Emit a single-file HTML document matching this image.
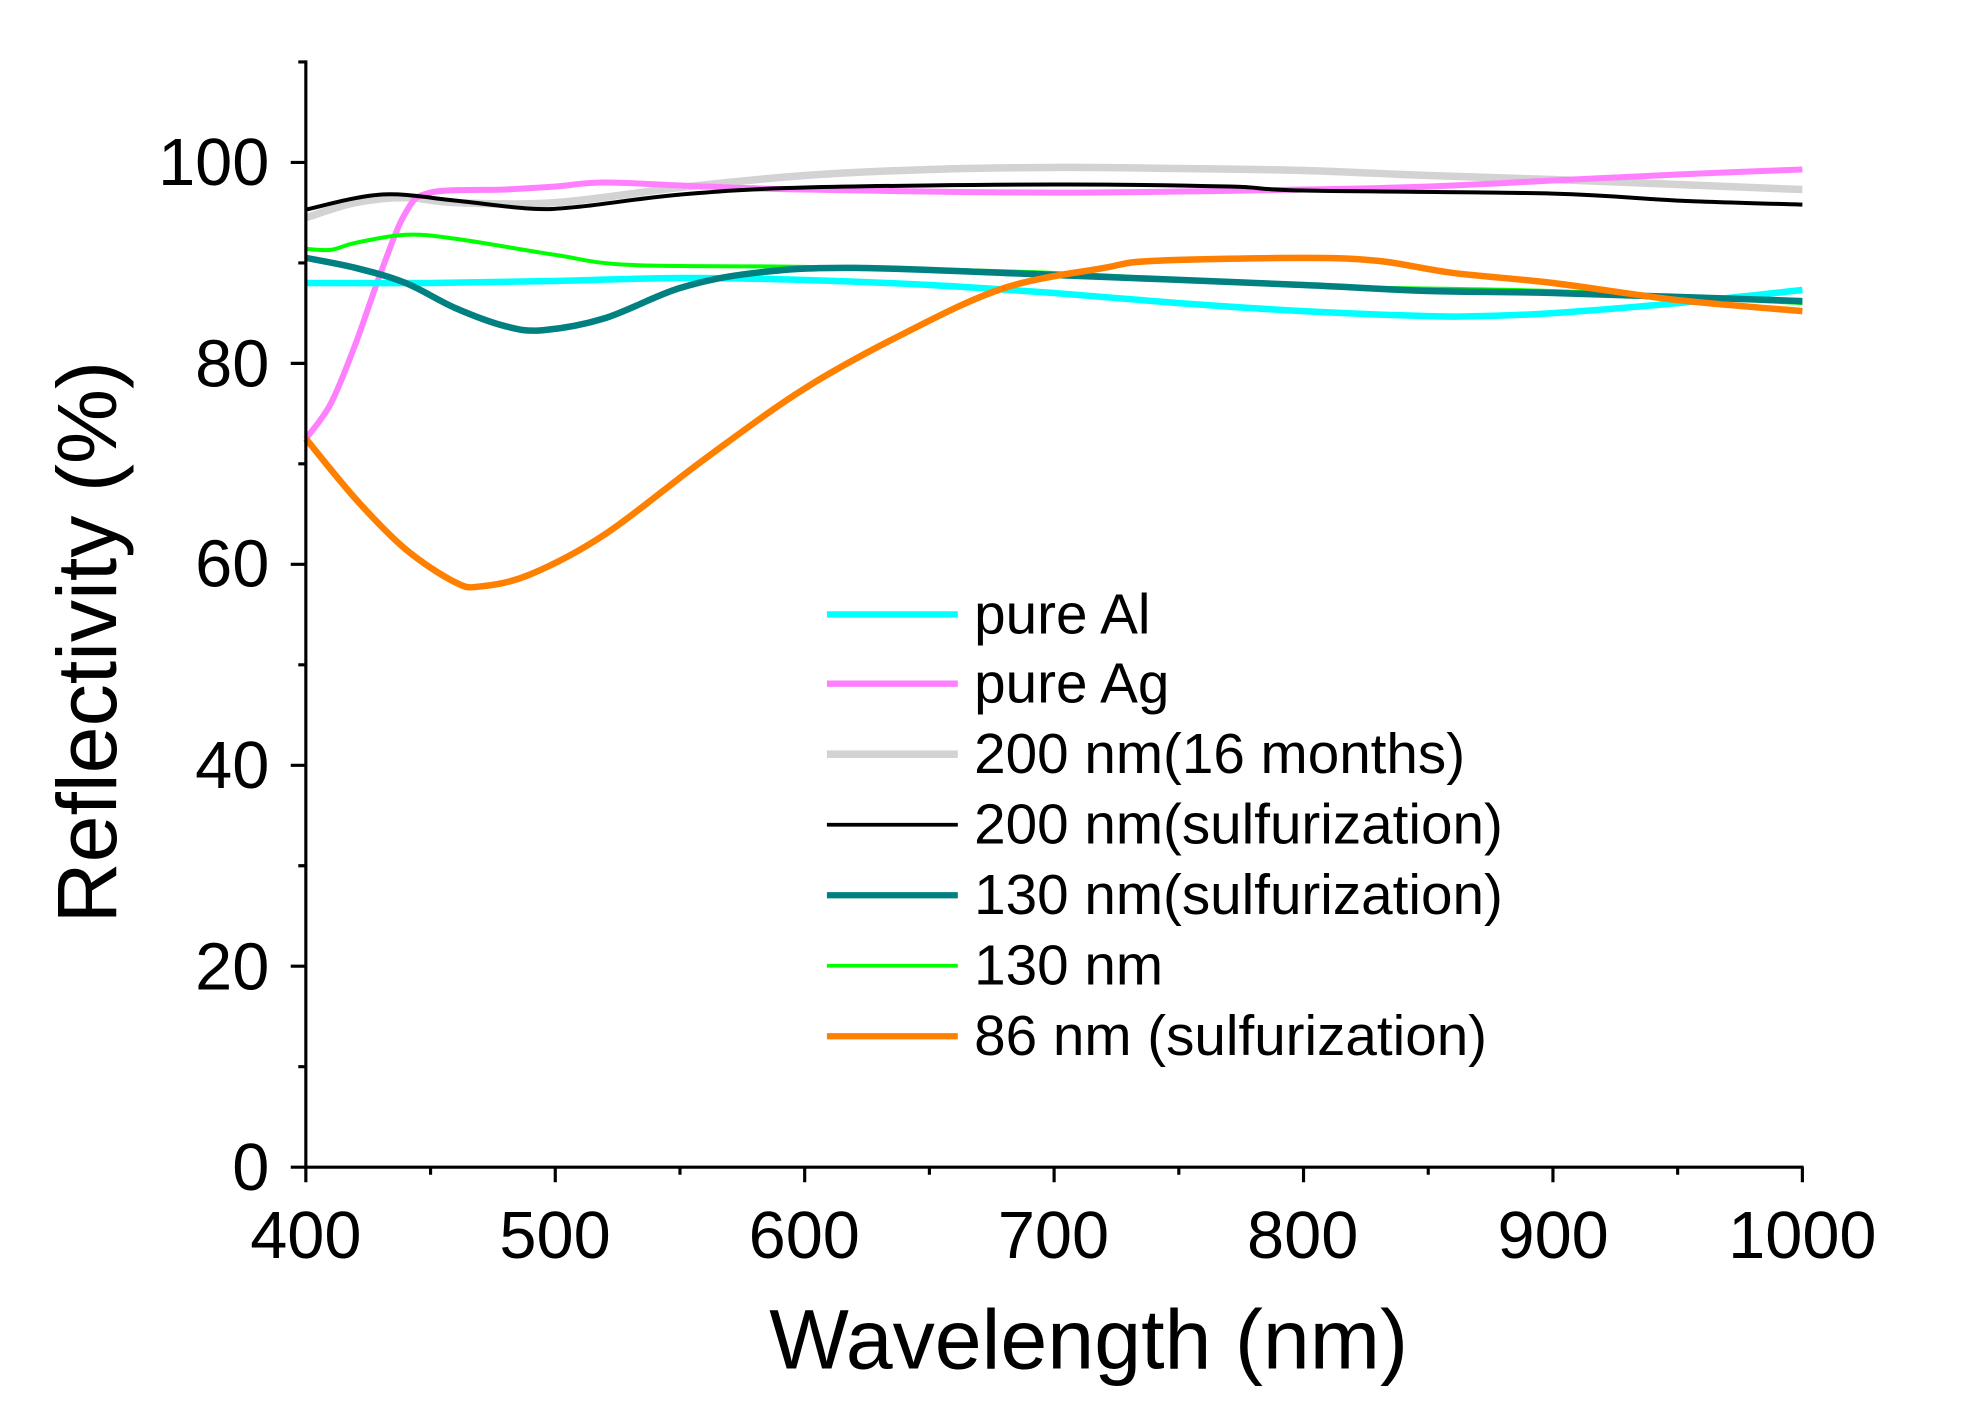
<!DOCTYPE html>
<html><head><meta charset="utf-8"><style>html,body{margin:0;padding:0;background:#fff}svg{display:block}</style></head>
<body>
<svg id="s" width="1971" height="1419" viewBox="0 0 1566 1127" preserveAspectRatio="none" xmlns="http://www.w3.org/2000/svg" font-family="Liberation Sans, sans-serif">
<rect width="1566" height="1127" fill="#fff"/>
<g id="curves" transform="translate(243,927) scale(1.9817,-7.98) translate(-400,0)"></g>
<g stroke="#000" stroke-width="2.5" fill="none">
<path d="M243,48 V927 H1433"/>
<g id="ticks"></g>
</g>
<g font-size="53" fill="#000" text-anchor="end">
<text x="214" y="945">0</text><text x="214" y="786">20</text><text x="214" y="626">40</text><text x="214" y="466">60</text><text x="214" y="307">80</text><text x="214" y="147">100</text>
</g>
<g font-size="53" fill="#000" text-anchor="middle">
<text x="243" y="999">400</text><text x="441" y="999">500</text><text x="639" y="999">600</text><text x="837" y="999">700</text><text x="1035" y="999">800</text><text x="1234" y="999">900</text><text x="1432" y="999">1000</text>
</g>
<text x="865" y="1087" font-size="67" text-anchor="middle">Wavelength (nm)</text>
<text transform="translate(92,510) rotate(-90)" font-size="67" text-anchor="middle">Reflectivity (%)</text>
<g stroke-linecap="butt">
<line x1="657" y1="488" x2="761" y2="488" stroke="#00FFFF" stroke-width="5"/>
<line x1="657" y1="543" x2="761" y2="543" stroke="#FF80FF" stroke-width="5"/>
<line x1="657" y1="599" x2="761" y2="599" stroke="#D3D3D3" stroke-width="6"/>
<line x1="657" y1="655" x2="761" y2="655" stroke="#000" stroke-width="3"/>
<line x1="657" y1="711" x2="761" y2="711" stroke="#008080" stroke-width="5"/>
<line x1="657" y1="767" x2="761" y2="767" stroke="#00FF00" stroke-width="3"/>
<line x1="657" y1="823" x2="761" y2="823" stroke="#FF8000" stroke-width="5"/>
</g>
<g font-size="45" fill="#000">
<text x="774" y="503">pure Al</text>
<text x="774" y="558">pure Ag</text>
<text x="774" y="614">200 nm(16 months)</text>
<text x="774" y="670">200 nm(sulfurization)</text>
<text x="774" y="726">130 nm(sulfurization)</text>
<text x="774" y="782">130 nm</text>
<text x="774" y="838">86 nm (sulfurization)</text>
</g>
</svg>
<script>
var NS="http://www.w3.org/2000/svg";
var t=document.getElementById("ticks"),s="";
for(var v=0;v<=110;v+=10){var y=927-v*7.98;s+="M243,"+y+"H"+(v%20==0?231:237);}
for(var w=400;w<=1000;w+=50){var x=243+(w-400)*1.9817;s+="M"+x+",927V"+(w%100==0?939:933);}
var p=document.createElementNS(NS,"path");p.setAttribute("d",s);t.appendChild(p);
var series=[
["#D3D3D3",7.5,[[400,94.5],[420,96],[440,96.5],[460,96],[500,96],[550,97.5],[600,98.7],[650,99.3],[700,99.5],[750,99.4],[800,99.2],[850,98.7],[900,98.3],[950,97.8],[1000,97.3]]],
["#FF80FF",6,[[400,72.5],[410,76],[420,82],[430,89],[440,95],[450,97],[480,97.3],[500,97.6],[520,98],[560,97.6],[600,97.3],[700,97],[800,97.3],[850,97.6],[900,98.2],[950,98.8],[1000,99.3]]],
["#000",4,[[400,95.3],[430,96.8],[460,96.2],[490,95.4],[510,95.6],[550,96.8],[600,97.5],[700,97.8],[770,97.6],[800,97.2],[900,96.9],[950,96.2],[1000,95.8]]],
["#00FFFF",6.5,[[400,88],[450,88],[500,88.2],[550,88.5],[600,88.3],[650,87.8],[700,87],[750,86],[800,85.2],[850,84.7],[870,84.7],[900,85],[950,86],[1000,87.3]]],
["#00FF00",4,[[400,91.4],[410,91.3],[420,92],[440,92.8],[460,92.4],[500,90.8],[530,89.8],[600,89.6],[700,89],[800,87.7],[900,87.2],[1000,86]]],
["#008080",6.5,[[400,90.5],[420,89.5],[440,88],[460,85.5],[480,83.7],[495,83.3],[520,84.5],[550,87.5],[580,89],[620,89.5],[700,88.8],[800,87.8],[850,87.2],[900,87],[1000,86.2]]],
["#FF8000",6.5,[[400,72.5],[420,66.5],[440,61.5],[460,58.2],[470,57.8],[490,59],[520,63],[560,70.5],[600,77.5],[640,83],[680,87.5],[720,89.5],[740,90.2],[800,90.5],[830,90.2],[860,89],[900,88],[950,86.3],[1000,85.2]]]
];
var g=document.getElementById("curves");
series.forEach(function(sr){var P=sr[2],d="M"+P[0][0]+","+P[0][1];
for(var i=0;i<P.length-1;i++){var p0=P[i-1]||P[i],p1=P[i],p2=P[i+1],p3=P[i+2]||P[i+1];
d+="C"+(p1[0]+(p2[0]-p0[0])/6)+","+(p1[1]+(p2[1]-p0[1])/6)+" "+(p2[0]-(p3[0]-p1[0])/6)+","+(p2[1]-(p3[1]-p1[1])/6)+" "+p2[0]+","+p2[1];}
var e=document.createElementNS(NS,"path");e.setAttribute("d",d);e.setAttribute("fill","none");e.setAttribute("stroke",sr[0]);e.setAttribute("stroke-width",sr[1]);e.setAttribute("vector-effect","non-scaling-stroke");g.appendChild(e);});
</script>
</body></html>
